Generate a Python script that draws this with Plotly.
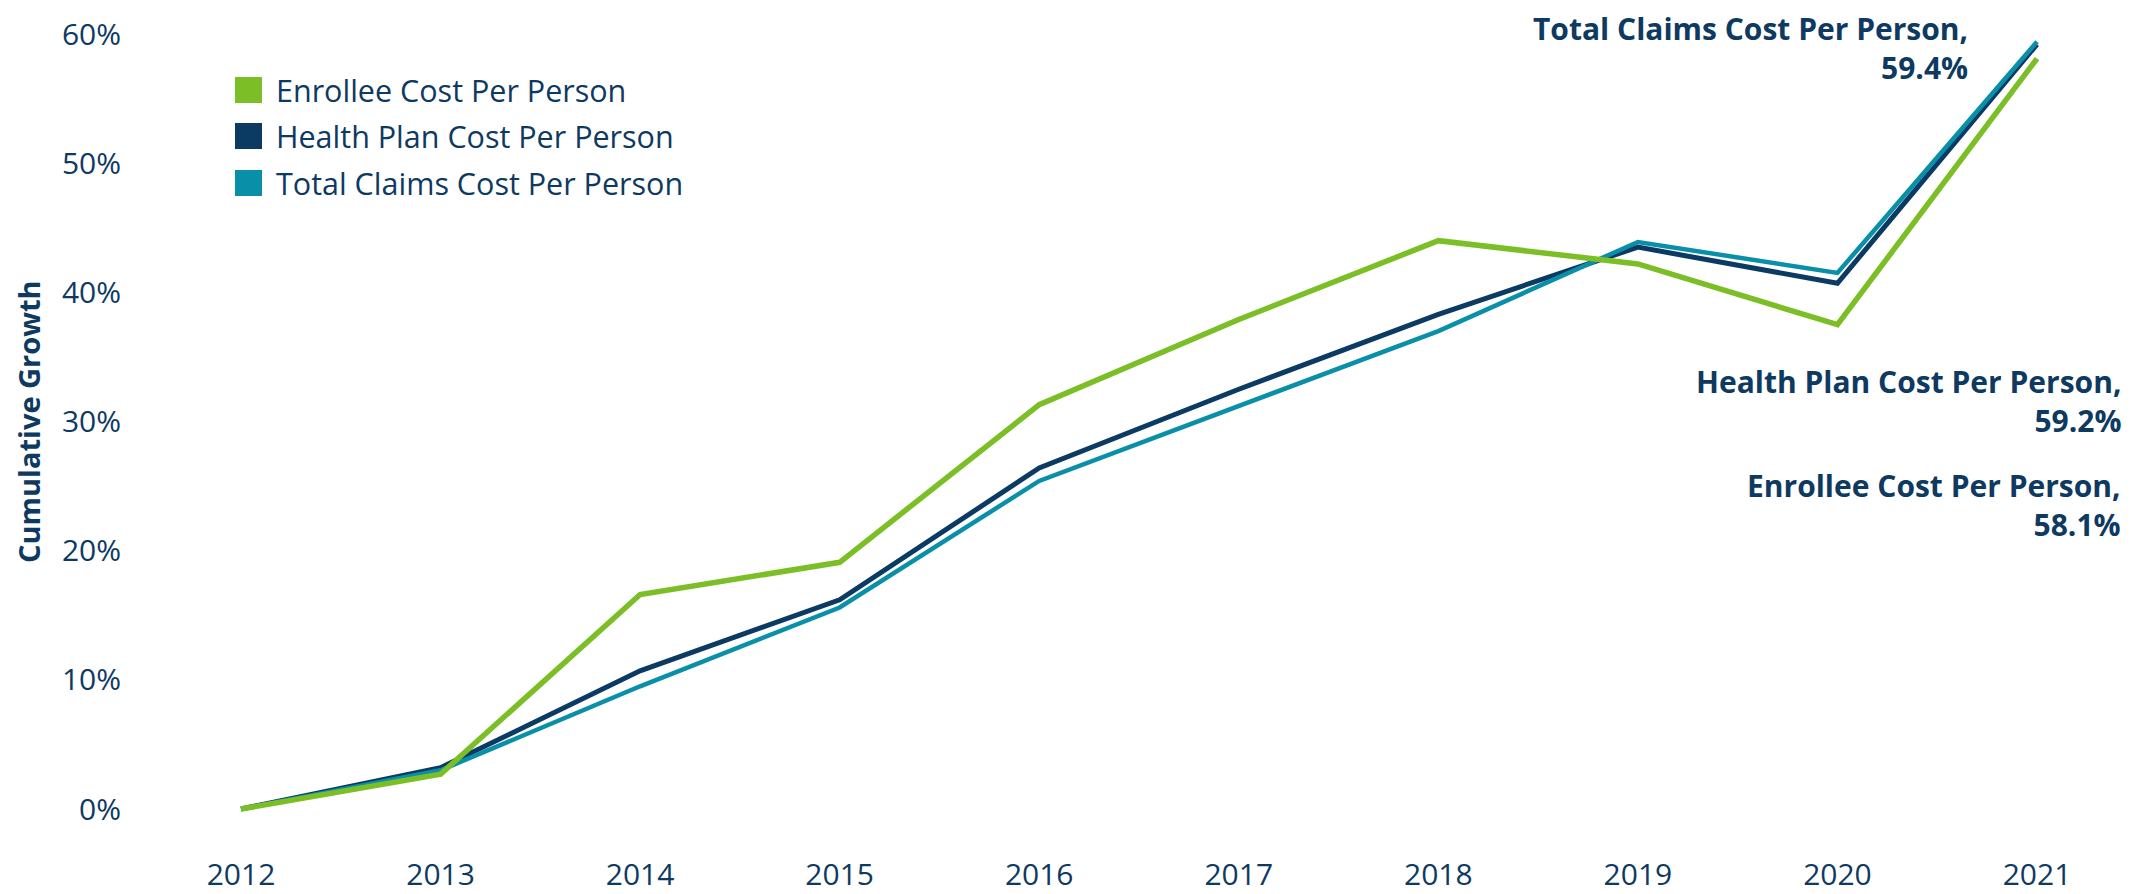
import plotly.graph_objects as go

years = [2012, 2013, 2014, 2015, 2016, 2017, 2018, 2019, 2020, 2021]
enrollee = [0.0, 2.7, 16.6, 19.1, 31.3, 37.9, 44.0, 42.2, 37.5, 58.1]
health_plan = [0.0, 3.2, 10.7, 16.2, 26.4, 32.5, 38.3, 43.5, 40.7, 59.2]
total_claims = [0.0, 3.0, 9.5, 15.6, 25.4, 31.2, 37.0, 43.9, 41.5, 59.4]

series_names = ["Enrollee Cost Per Person", "Health Plan Cost Per Person", "Total Claims Cost Per Person"]
series_values = [enrollee, health_plan, total_claims]
series_colors = ["#7BBE25", "#0B3A63", "#0A8FA8"]
series_widths = [5.5, 5, 4.5]
y_ticks = [0, 10, 20, 30, 40, 50, 60]
y_title = "Cumulative Growth"

TEXT = "#0E3A62"
W, H = 2134, 894
ML, MR, MT, MB = 140, 57, 20, 65
PW, PH = W - ML - MR, H - MT - MB


def px_x(p):
    return (p - ML) / PW


def px_y(p):
    return (H - MB - p) / PH


fig = go.Figure()
for i in [1, 2, 0]:
    fig.add_trace(go.Scatter(
        x=years, y=series_values[i], mode="lines", name=series_names[i],
        line=dict(color=series_colors[i], width=series_widths[i]),
        showlegend=False, hoverinfo="x+y+name",
    ))

shapes = []
annotations = []
legend_rows = [90, 136, 183]
for i, name in enumerate(series_names):
    cy = legend_rows[i]
    shapes.append(dict(type="rect", xref="paper", yref="paper",
                       x0=px_x(235), x1=px_x(262), y0=px_y(cy + 13), y1=px_y(cy - 13),
                       fillcolor=series_colors[i], line=dict(width=0)))
    annotations.append(dict(xref="paper", yref="paper", x=px_x(274), y=px_y(cy),
                            xanchor="left", yanchor="middle", showarrow=False,
                            text=name, font=dict(family="Open Sans", size=30.5, color=TEXT)))

label_pos = {2: (1970, 48), 1: (2123, 401), 0: (2123, 505)}
for i, (rx, cy) in label_pos.items():
    annotations.append(dict(xref="paper", yref="paper", x=px_x(rx), y=px_y(cy),
                            xanchor="right", yanchor="middle", align="right", showarrow=False,
                            text=f"{series_names[i]},<br>{series_values[i][-1]:.1f}%",
                            font=dict(family="Open Sans", size=30, color=TEXT, weight="bold")))

annotations.append(dict(xref="paper", yref="paper", x=px_x(28), y=px_y(422),
                        xanchor="center", yanchor="middle", textangle=-90, showarrow=False,
                        text=y_title, font=dict(family="Open Sans", size=29, color=TEXT, weight="bold")))

px_per_year = (2037 - 241) / 9.0
x0 = years[0] - (241 - ML) / px_per_year
x1 = years[-1] + (W - MR - 2037) / px_per_year
ppu = (809 - 34) / 60.0
y0 = -(H - MB - 809) / ppu
y1 = 60 + (34 - MT) / ppu

fig.update_layout(
    width=W, height=H,
    margin=dict(l=ML, r=MR, t=MT, b=MB, autoexpand=False),
    plot_bgcolor="white", paper_bgcolor="white",
    shapes=shapes, annotations=annotations,
    showlegend=False,
    xaxis=dict(range=[x0, x1], tickmode="array", tickvals=years, ticktext=[str(y) for y in years],
               showgrid=False, zeroline=False, showline=False, automargin=False,
               ticks="outside", ticklen=19, tickcolor="rgba(0,0,0,0)",
               tickfont=dict(family="Open Sans", size=30, color=TEXT)),
    yaxis=dict(range=[y0, y1], tickmode="array", tickvals=y_ticks, ticktext=[f"{t}%" for t in y_ticks],
               showgrid=False, zeroline=False, showline=False, automargin=False,
               ticks="outside", ticklen=12, tickcolor="rgba(0,0,0,0)",
               tickfont=dict(family="Open Sans", size=30, color=TEXT)),
)

fig.write_html(
    "out.html",
    config={"displayModeBar": False},
    post_script=(
        "document.documentElement.style.margin='0';"
        "document.documentElement.style.overflow='hidden';"
        "document.body.style.margin='0';"
        "document.body.style.overflow='hidden';"
    ),
)
